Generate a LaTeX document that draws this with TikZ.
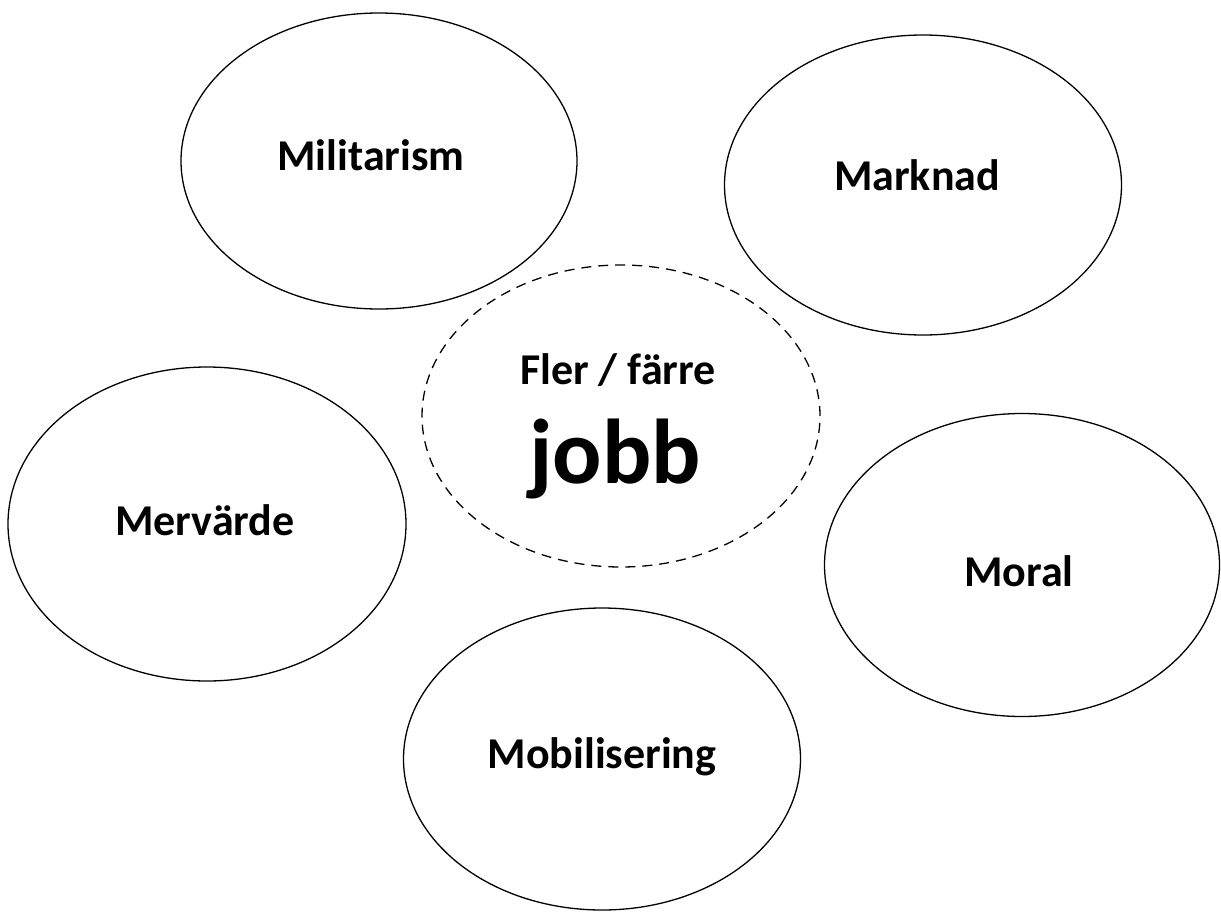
\documentclass[tikz,border=0pt]{standalone}
\usepackage{fontspec}
\setmainfont{Carlito}
\usetikzlibrary{shapes.geometric}
\begin{document}
\begin{tikzpicture}[x=1pt,y=-1pt,
  bubble/.style={draw=black,line width=1.3pt,ellipse,inner sep=0pt},
  lbl/.style={font=\fontsize{44}{52}\selectfont\bfseries,inner sep=0pt}]
\useasboundingbox (0,0) rectangle (1221,911);
\node[bubble,minimum width=396pt,minimum height=296pt] (mil) at (379,161) {};
\node[bubble,minimum width=397pt,minimum height=300pt] (mar) at (923,185) {};
\node[bubble,minimum width=398pt,minimum height=302pt,dash pattern=on 10pt off 7pt] (cen) at (621,416) {};
\node[bubble,minimum width=398pt,minimum height=314pt] (mer) at (207,524) {};
\node[bubble,minimum width=395pt,minimum height=303pt] (mor) at (1022,565) {};
\node[bubble,minimum width=397pt,minimum height=302pt] (mob) at (602,759) {};
\node[lbl] (tmil) at (371,155) {Militarism};
\node[lbl] (tmar) at (917,175) {Marknad};
\node[lbl] (tmer) at (205,520) {Mervärde};
\node[lbl] (tmor) at (1019,571) {Moral};
\node[lbl] (tmob) at (602,757) {Mobilisering};
\node[lbl] (tfl) at (618,370) {Fler / färre};
\node[font=\fontsize{92}{100}\selectfont\bfseries,inner sep=0pt,anchor=base] (tjob) at (615,483) {jobb};
\end{tikzpicture}
\end{document}
